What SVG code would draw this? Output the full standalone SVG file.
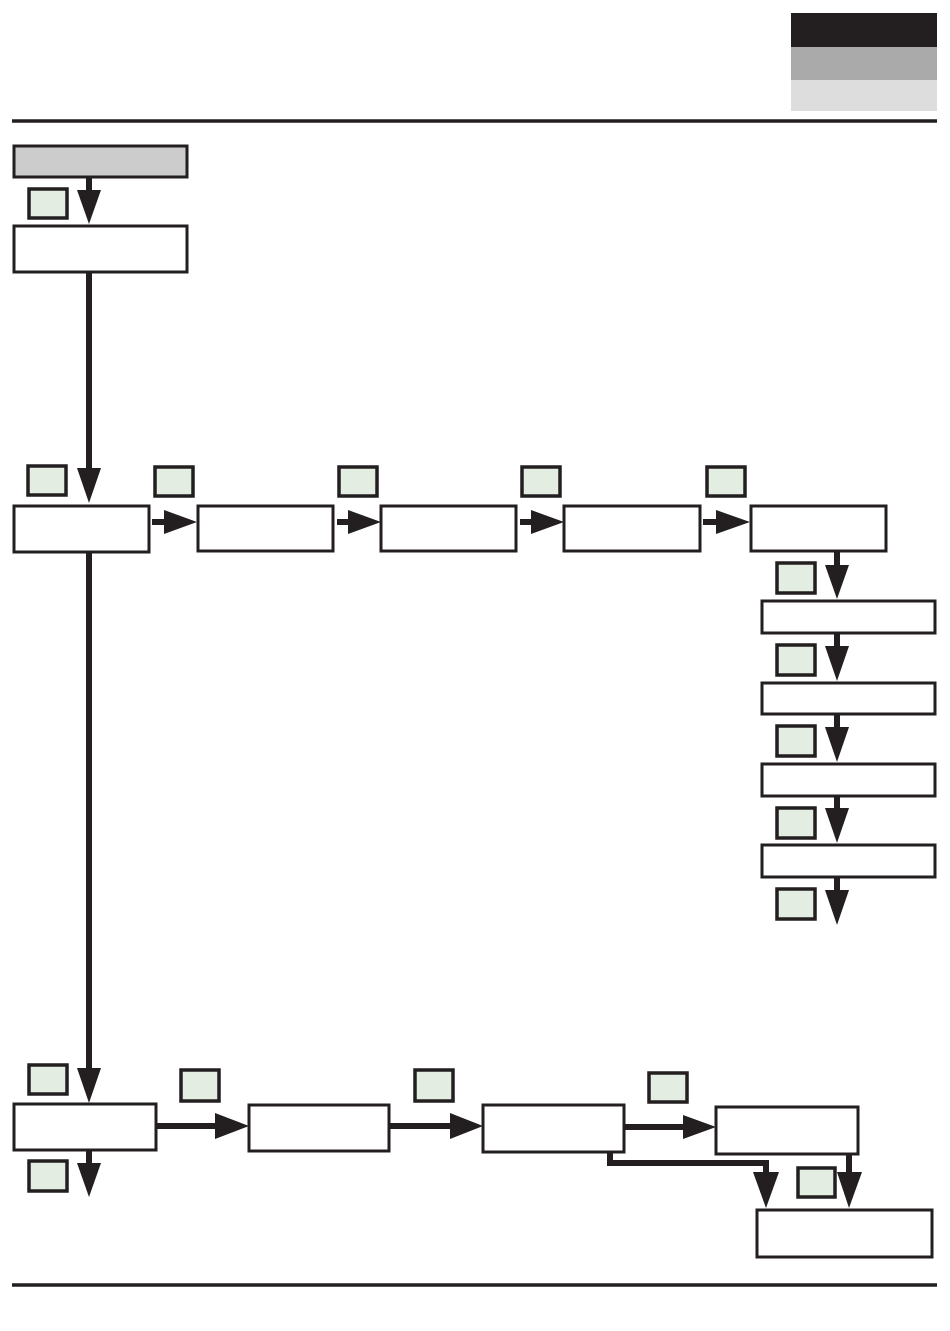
<svg xmlns="http://www.w3.org/2000/svg" width="950" height="1331" viewBox="0 0 950 1331">
<style>
.box{fill:#fff;stroke:#231f20;stroke-width:3}
.key{fill:#e3ede1;stroke:#231f20;stroke-width:3.5}
.ln{fill:none;stroke:#231f20;stroke-width:6}
.hd{fill:#231f20}
.rule{stroke:#231f20;stroke-width:3.5}
</style>
<g id="header">
<rect x="791" y="13" width="146" height="34" fill="#231f20"/>
<rect x="791" y="47" width="146" height="33" fill="#aaaaaa"/>
<rect x="791" y="80" width="146" height="31" fill="#dddddd"/>
<line class="rule" x1="12" y1="121" x2="937" y2="121"/>
<line class="rule" x1="12" y1="1285" x2="937" y2="1285"/>
</g>
<g id="connectors">
<line class="ln" x1="89" y1="177" x2="89" y2="192"/>
<polygon class="hd" points="77,190 101,190 89,224"/>
<line class="ln" x1="89" y1="270" x2="89" y2="472"/>
<polygon class="hd" points="77,468 101,468 89,503"/>
<line class="ln" x1="152" y1="522" x2="168" y2="522"/>
<polygon class="hd" points="164,510 164,534 197,522"/>
<line class="ln" x1="337" y1="522" x2="352" y2="522"/>
<polygon class="hd" points="348,510 348,534 381,522"/>
<line class="ln" x1="520" y1="522" x2="535" y2="522"/>
<polygon class="hd" points="531,510 531,534 564,522"/>
<line class="ln" x1="703" y1="522" x2="720" y2="522"/>
<polygon class="hd" points="716,510 716,534 750,522"/>
<line class="ln" x1="837" y1="551" x2="837" y2="568"/>
<polygon class="hd" points="825,565 849,565 837,599"/>
<line class="ln" x1="837" y1="633" x2="837" y2="650"/>
<polygon class="hd" points="825,646 849,646 837,681"/>
<line class="ln" x1="837" y1="714" x2="837" y2="731"/>
<polygon class="hd" points="825,727 849,727 837,762"/>
<line class="ln" x1="837" y1="796" x2="837" y2="812"/>
<polygon class="hd" points="825,808 849,808 837,843"/>
<line class="ln" x1="837" y1="877" x2="837" y2="894"/>
<polygon class="hd" points="825,890 849,890 837,925"/>
<line class="ln" x1="89" y1="552" x2="89" y2="1072"/>
<polygon class="hd" points="77,1068 101,1068 89,1103"/>
<line class="ln" x1="89" y1="1150" x2="89" y2="1167"/>
<polygon class="hd" points="77,1163 101,1163 89,1197"/>
<line class="ln" x1="156" y1="1126" x2="219" y2="1126"/>
<polygon class="hd" points="215,1113 215,1139 249,1126"/>
<line class="ln" x1="389" y1="1126" x2="454" y2="1126"/>
<polygon class="hd" points="450,1113 450,1139 483,1126"/>
<line class="ln" x1="624" y1="1127" x2="687" y2="1127"/>
<polygon class="hd" points="683,1115 683,1139 716,1127"/>
<polyline class="ln" points="610,1152 610,1163 766,1163 766,1176"/>
<polygon class="hd" points="753,1172 779,1172 766,1208"/>
<line class="ln" x1="849" y1="1154" x2="849" y2="1176"/>
<polygon class="hd" points="837,1172 862,1172 849,1208"/>
</g>
<g id="node-start"><rect x="14" y="146" width="173" height="31" fill="#cccccc" stroke="#231f20" stroke-width="3"/></g>
<g id="node-2"><rect class="box" x="14" y="226" width="173" height="46"/></g>
<g id="node-a"><rect class="box" x="14" y="506" width="135" height="46"/></g>
<g id="node-b"><rect class="box" x="198" y="506" width="135" height="45"/></g>
<g id="node-c"><rect class="box" x="381" y="506" width="135" height="45"/></g>
<g id="node-d"><rect class="box" x="564" y="506" width="136" height="45"/></g>
<g id="node-e"><rect class="box" x="751" y="506" width="135" height="45"/></g>
<g id="node-f1"><rect class="box" x="762" y="601" width="173" height="32"/></g>
<g id="node-f2"><rect class="box" x="762" y="683" width="173" height="31"/></g>
<g id="node-f3"><rect class="box" x="762" y="764" width="173" height="32"/></g>
<g id="node-f4"><rect class="box" x="762" y="845" width="173" height="32"/></g>
<g id="node-g"><rect class="box" x="14" y="1104" width="142" height="46"/></g>
<g id="node-h"><rect class="box" x="249" y="1105" width="140" height="46"/></g>
<g id="node-i"><rect class="box" x="483" y="1105" width="141" height="47"/></g>
<g id="node-j"><rect class="box" x="716" y="1107" width="142" height="47"/></g>
<g id="node-k"><rect class="box" x="757" y="1210" width="175" height="47"/></g>
<g id="keys">
<rect class="key" x="29" y="189" width="38" height="29"/>
<rect class="key" x="28" y="466" width="38" height="29"/>
<rect class="key" x="155" y="467" width="38" height="29"/>
<rect class="key" x="339" y="467" width="38" height="29"/>
<rect class="key" x="522" y="467" width="38" height="29"/>
<rect class="key" x="707" y="467" width="38" height="29"/>
<rect class="key" x="777" y="563" width="38" height="30"/>
<rect class="key" x="777" y="645" width="38" height="30"/>
<rect class="key" x="777" y="726" width="38" height="30"/>
<rect class="key" x="777" y="808" width="38" height="30"/>
<rect class="key" x="777" y="889" width="38" height="30"/>
<rect class="key" x="29" y="1065" width="38" height="29"/>
<rect class="key" x="29" y="1161" width="38" height="30"/>
<rect class="key" x="181" y="1070" width="38" height="31"/>
<rect class="key" x="415" y="1070" width="38" height="31"/>
<rect class="key" x="649" y="1073" width="38" height="29"/>
<rect class="key" x="798" y="1168" width="37" height="29"/>
</g>
</svg>
